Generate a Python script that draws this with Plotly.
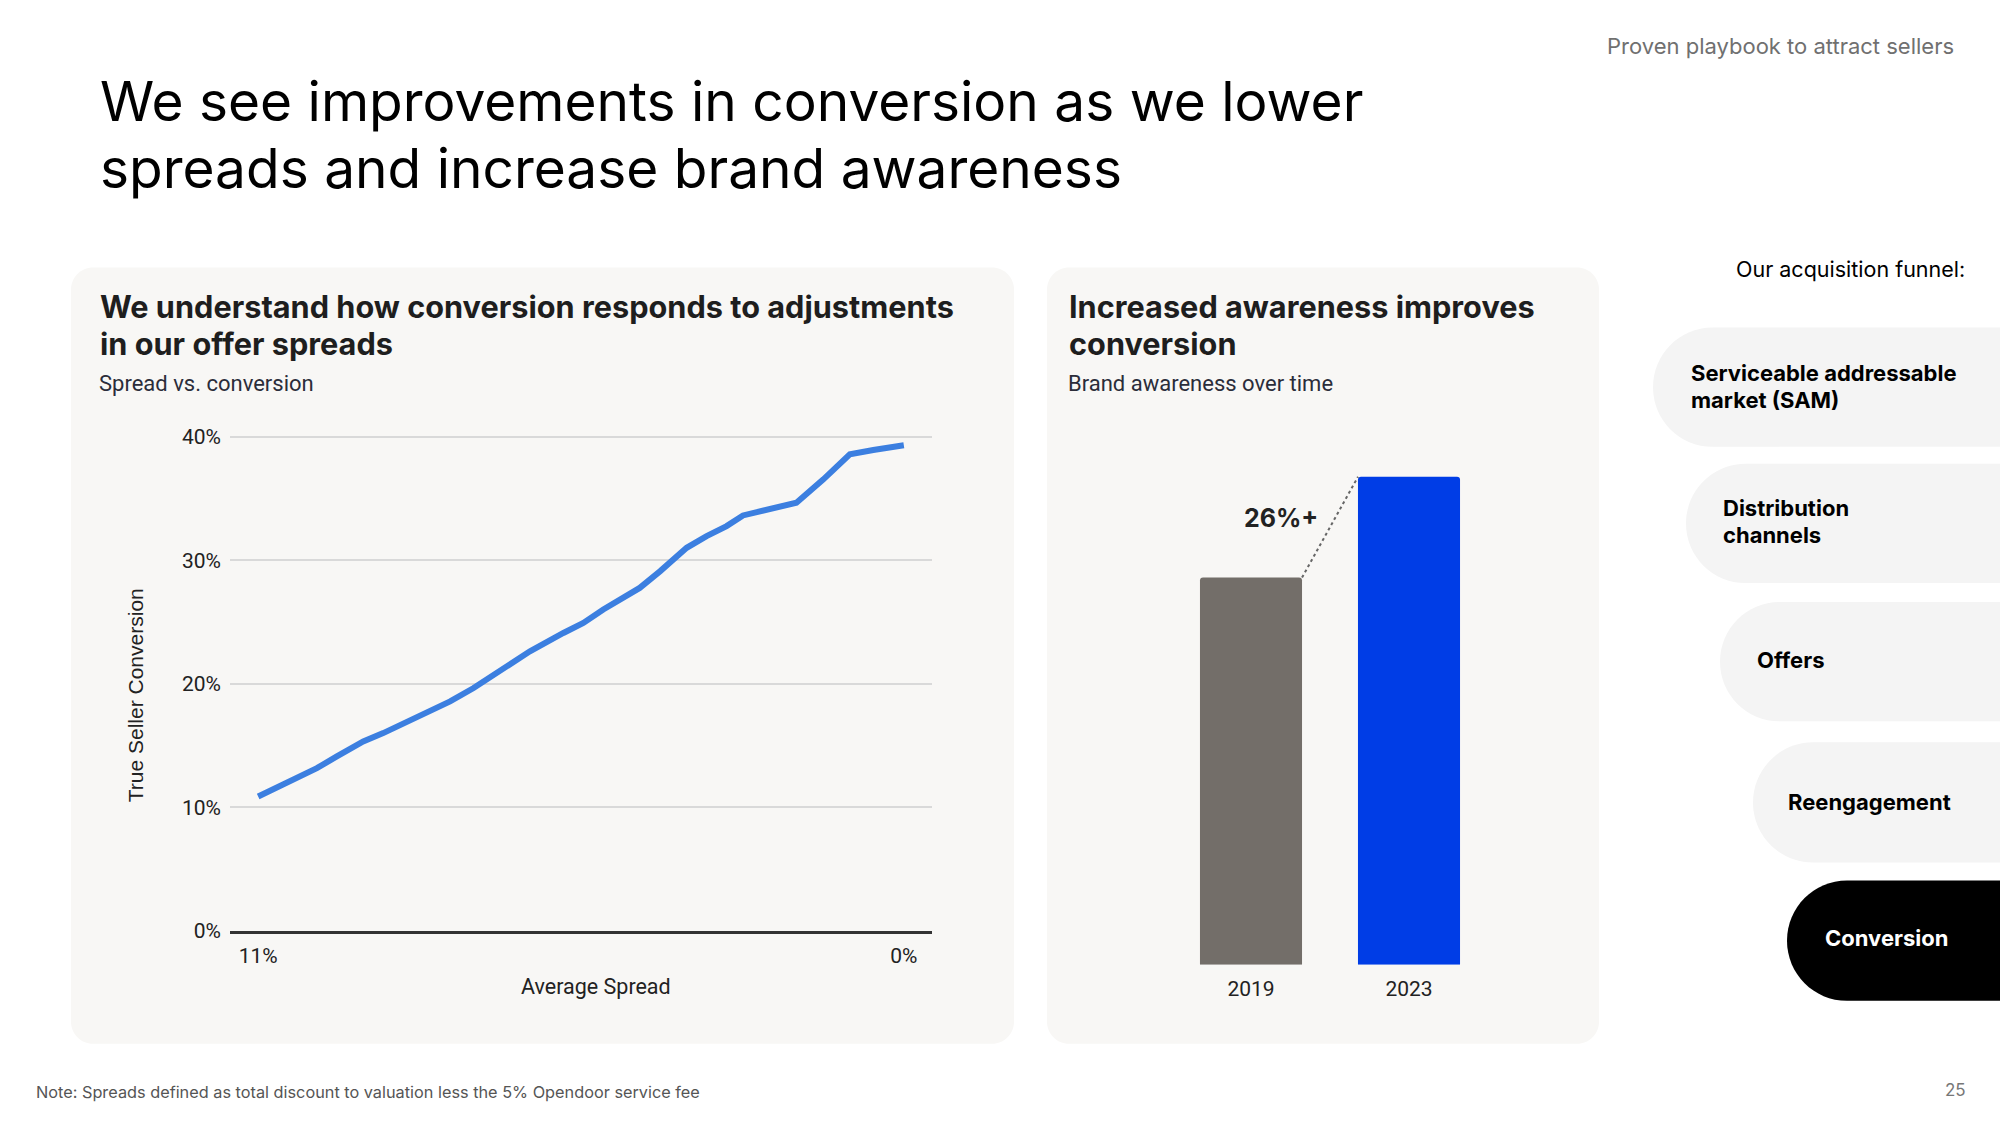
import plotly.graph_objects as go

W = 2000
REF_H = 1125          # layout is designed in 2000x1125 reference pixels
H = 1139              # rendered height (compensates vertical squeeze of the capture)

# ---------------- data ----------------
spread_pct = [11.00, 10.63, 10.28, 10.00, 9.66, 9.21, 8.87, 8.47, 8.19, 7.73, 7.33,
              6.94, 6.37, 5.80, 5.46, 5.12, 4.72, 4.50, 4.15, 3.98, 3.70, 3.36,
              3.02, 2.74, 2.40, 2.11, 1.83, 1.37, 0.92, 0.52, 0.00]
conversion_pct = [10.87, 11.68, 12.49, 13.16, 14.11, 15.33, 16.00, 16.89, 17.49, 18.57, 19.65,
                  20.87, 22.63, 24.11, 24.92, 26.01, 27.09, 27.76, 29.12, 29.79, 31.01, 31.95,
                  32.77, 33.63, 33.98, 34.39, 34.66, 36.55, 38.58, 38.93, 39.31]
x_tick_vals = [11, 0]
x_tick_text = ["11%", "0%"]
y_tick_vals = [0, 10, 20, 30, 40]
y_tick_text = ["0%", "10%", "20%", "30%", "40%"]

years = ["2019", "2023"]
awareness_index = [100, 126]   # relative brand awareness (2019 = 100)

funnel_stages = ["Serviceable addressable<br>market (SAM)", "Distribution<br>channels",
                 "Offers", "Reengagement", "Conversion"]

# ---------------- helpers ----------------
def px(x):
    return x / W

def py(y):
    return 1 - y / REF_H

def P(x, y):
    return f"{px(x):.6f},{py(y):.6f}"

def rrect(x0, y0, x1, y1, r):
    k = 0.5523 * r
    return (f"M {P(x0 + r, y0)} L {P(x1 - r, y0)} "
            f"C {P(x1 - r + k, y0)} {P(x1, y0 + r - k)} {P(x1, y0 + r)} "
            f"L {P(x1, y1 - r)} "
            f"C {P(x1, y1 - r + k)} {P(x1 - r + k, y1)} {P(x1 - r, y1)} "
            f"L {P(x0 + r, y1)} "
            f"C {P(x0 + r - k, y1)} {P(x0, y1 - r + k)} {P(x0, y1 - r)} "
            f"L {P(x0, y0 + r)} "
            f"C {P(x0, y0 + r - k)} {P(x0 + r - k, y0)} {P(x0 + r, y0)} Z")

def pill(x0, y0, x1, y1):
    r = (y1 - y0) / 2
    k = 0.5523 * r
    return (f"M {P(x0 + r, y0)} L {P(x1, y0)} L {P(x1, y1)} L {P(x0 + r, y1)} "
            f"C {P(x0 + r - k, y1)} {P(x0, y1 - r + k)} {P(x0, y1 - r)} "
            f"C {P(x0, y0 + r - k)} {P(x0 + r - k, y0)} {P(x0 + r, y0)} Z")

PANEL = "#f8f7f5"
PILL = "#f4f4f4"
TXT = "#222222"

fig = go.Figure()

# line chart
fig.add_trace(go.Scatter(
    x=spread_pct, y=conversion_pct, mode="lines",
    line=dict(color="#3c7fe0", width=6),
    xaxis="x", yaxis="y", hoverinfo="skip", showlegend=False))

# bar chart
fig.add_trace(go.Bar(
    x=years, y=awareness_index,
    marker=dict(color=["#736e69", "#003de6"], cornerradius=3, line=dict(width=0)),
    xaxis="x2", yaxis="y2", hoverinfo="skip", showlegend=False))

bargap = 0.354
half_w = (1 - bargap) / 2

shapes = [
    dict(type="path", xref="paper", yref="paper", path=rrect(71, 267, 1014, 1042, 22),
         fillcolor=PANEL, line=dict(width=0), layer="below"),
    dict(type="path", xref="paper", yref="paper", path=rrect(1047, 267, 1599, 1042, 22),
         fillcolor=PANEL, line=dict(width=0), layer="below"),
    dict(type="line", xref="x2", yref="y2",
         x0=0 + half_w, y0=awareness_index[0], x1=1 - half_w, y1=awareness_index[1],
         line=dict(color="#666666", width=2, dash="dot")),
]

pill_boxes = [(1653, 327, 446), (1686, 463, 582), (1720, 601, 720), (1753, 741, 861), (1787, 879, 999)]
text_x = [1689, 1721, 1755, 1786, 1823]
for i, (x0, y0, y1) in enumerate(pill_boxes):
    last = i == len(pill_boxes) - 1
    shapes.append(dict(type="path", xref="paper", yref="paper", path=pill(x0, y0, W + 5, y1),
                       fillcolor="#000000" if last else PILL, line=dict(width=0), layer="below"))

annotations = []

def txt(x, y, text, size, color="#000", family="Inter", weight=400, xanchor="left",
        yanchor="middle", align="left", angle=0):
    annotations.append(dict(x=px(x), y=py(y), xref="paper", yref="paper", text=text,
                            showarrow=False, xanchor=xanchor, yanchor=yanchor, align=align,
                            textangle=angle,
                            font=dict(size=size, color=color, family=family, weight=weight)))

txt(98, 101, "We see improvements in conversion as we lower", 55, "#000000")
txt(98, 168, "spreads and increase brand awareness", 55, "#000000")
txt(1956, 46, "Proven playbook to attract sellers", 22, "#707070", xanchor="right")
txt(1967, 269, "Our acquisition funnel:", 21.5, "#000000", xanchor="right")

txt(98, 306, "We understand how conversion responds to adjustments", 30.7, "#1e1e1e", weight=700)
txt(98, 343, "in our offer spreads", 30.7, "#1e1e1e", weight=700)
txt(97, 383, "Spread vs. conversion", 22, "#2b2d3a", family="Roboto")
txt(135, 694, "True Seller Conversion", 21, TXT, family="Liberation Sans", xanchor="center",
    angle=-90)
txt(596, 985, "Average Spread", 21.5, TXT, family="Roboto", xanchor="center")

txt(1067, 306, "Increased awareness improves", 30.7, "#1e1e1e", weight=700)
txt(1067, 343, "conversion", 30.7, "#1e1e1e", weight=700)
txt(1066, 383, "Brand awareness over time", 22, "#2b2d3a", family="Roboto")
growth = round((awareness_index[1] / awareness_index[0] - 1) * 100)
txt(1281, 517, f"{growth}%+", 25, TXT, weight=700, xanchor="center")

pill_centers = [386, 521, 659, 801, 936]
for i, stage in enumerate(funnel_stages):
    last = i == len(funnel_stages) - 1
    lines = stage.split("<br>")
    n = len(lines)
    for j, line in enumerate(lines):
        yc = pill_centers[i] + (j - (n - 1) / 2) * 27
        txt(text_x[i], yc, line, 22, "#ffffff" if last else "#000000", weight=700)

txt(34, 1090, "Note: Spreads defined as total discount to valuation less the 5% Opendoor service fee",
    16.3, "#555555")
txt(1968, 1088, "25", 17, "#777777", xanchor="right")

fig.update_layout(
    width=W, height=H,
    margin=dict(l=0, r=0, t=0, b=0),
    paper_bgcolor="#ffffff", plot_bgcolor="rgba(0,0,0,0)",
    bargap=bargap,
    shapes=shapes, annotations=annotations,
    xaxis=dict(domain=[px(230), px(932)], range=[11.48, -0.48], tickvals=x_tick_vals,
               ticktext=x_tick_text, showgrid=False, zeroline=False, showline=True,
               linecolor="#333333", linewidth=3, ticks="", ticklabelstandoff=4,
               tickfont=dict(family="Roboto", size=21, color=TXT), anchor="y", fixedrange=True),
    yaxis=dict(domain=[py(929), py(423.7)], range=[0, 41], tickvals=y_tick_vals,
               ticktext=y_tick_text, showgrid=True, gridcolor="#d9d9d9", gridwidth=2,
               zeroline=False, showline=False, ticks="", ticklabelstandoff=8,
               tickfont=dict(family="Roboto", size=21, color=TXT), anchor="x", fixedrange=True),
    xaxis2=dict(domain=[px(1172), px(1488)], type="category", range=[-0.5, 1.5],
                showgrid=False, zeroline=False, showline=False, ticks="", ticklabelstandoff=9,
                tickfont=dict(family="Roboto", size=21, color=TXT), anchor="y2", fixedrange=True),
    yaxis2=dict(domain=[py(963), py(450)], range=[0, 126 * 513 / 487], visible=False,
                anchor="x2", fixedrange=True),
)

fig.write_html("out.html")
